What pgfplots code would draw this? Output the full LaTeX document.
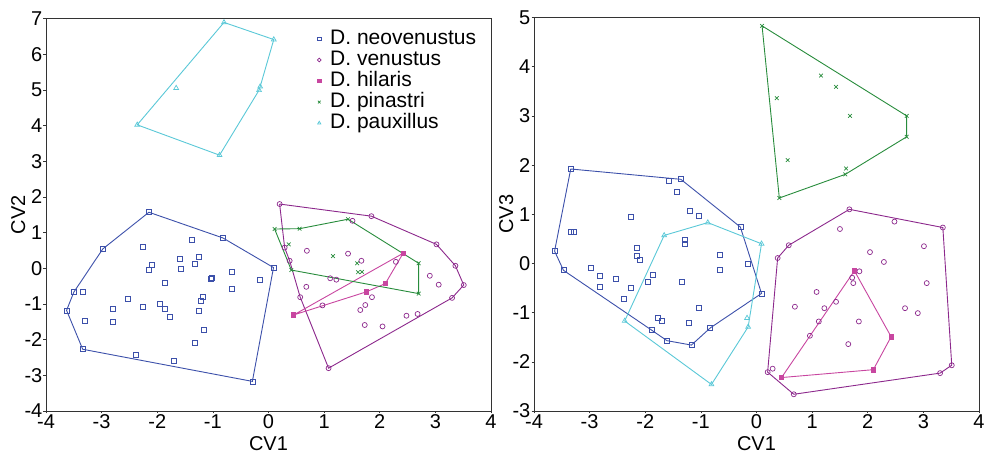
\documentclass[border=0pt]{standalone}
\usepackage{fontspec}
\setmainfont{Liberation Sans}
\usepackage{pgfplots}
\pgfplotsset{compat=1.18}
\definecolor{cneo}{RGB}{60,80,170}
\definecolor{cven}{RGB}{140,40,140}
\definecolor{chil}{RGB}{200,70,160}
\definecolor{cpin}{RGB}{40,140,60}
\definecolor{cpau}{RGB}{90,200,215}
\pgfplotsset{
  cvstyle/.style={
    scale only axis, width=445pt,
    tick align=outside, major tick length=2.5pt,
    xtick pos=bottom, ytick pos=left,
    axis line style={line width=0.8pt, black!80},
    every tick/.style={black!80, line width=0.6pt},
    /pgf/number format/assume math mode=true,
    ticklabel style={font=\fontsize{20}{24}\selectfont, inner sep=1pt},
    label style={font=\fontsize{20}{24}\selectfont},
    xlabel=CV1,
    xlabel style={at={(axis description cs:0.5,-0.0823)}, anchor=center},
    ylabel style={at={(axis description cs:-0.0625,0.5)}, anchor=center},
  },
  hull/.style={line width=0.9pt, forget plot, no markers},
  pts/.style={only marks, mark options={line width=0.7pt}},
  neo/.style={color=cneo, mark=square, mark size=2.5pt},
  ven/.style={color=cven, mark=o, mark size=2.5pt},
  hil/.style={color=chil, mark=square*, mark size=2.2pt},
  pin/.style={color=cpin, mark=x, mark size=2.6pt},
  pau/.style={color=cpau, mark=triangle, mark size=2.8pt},
}
\begin{document}
\begin{tikzpicture}
\path[use as bounding box] (0pt,0pt) rectangle (987pt,454pt);
% ---------------- left panel ----------------
\begin{axis}[cvstyle, at={(46pt,43pt)}, anchor=south west, height=392.5pt,
  xmin=-4, xmax=4, ymin=-4, ymax=7,
  xtick={-4,...,4}, ytick={-4,...,7},
  ylabel=CV2,
  legend style={draw=none, fill=none, at={(axis description cs:0.604,0.975)}, anchor=north west,
    font=\fontsize{21}{21}\selectfont, row sep=0pt, inner sep=0pt,
    nodes={inner sep=1pt, text height=15pt, text depth=4pt}},
  legend cell align=left,
  legend image code/.code={\path[draw=none] (0cm,0cm) -- (0.5cm,0cm);
    \draw[#1, mark size=1.8pt] plot coordinates {(0.15cm,0cm)};},
]
% hulls
\addplot[hull, cneo] coordinates {(-2.15,1.57) (-0.82,0.85) (0.09,0.02) (-0.29,-3.17) (-3.34,-2.27) (-3.63,-1.18) (-3.50,-0.67) (-2.98,0.54) (-2.15,1.57)};
\addplot[hull, cven] coordinates {(0.20,1.80) (1.85,1.46) (3.02,0.67) (3.36,0.07) (3.51,-0.47) (3.30,-0.83) (1.08,-2.80) (0.57,-0.81) (0.38,0.21) (0.29,0.58) (0.20,1.80)};
\addplot[hull, chil] coordinates {(0.45,-1.31) (2.42,0.42) (2.10,-0.43) (1.76,-0.66) (0.45,-1.31)};
\addplot[hull, cpin] coordinates {(0.11,1.10) (0.56,1.11) (1.43,1.375) (2.70,0.14) (2.70,-0.71) (0.41,-0.05) (0.11,1.10)};
\addplot[hull, cpau] coordinates {(-0.80,6.89) (0.095,6.41) (-0.15,5.09) (-0.17,4.99) (-0.88,3.17) (-2.36,4.02) (-0.80,6.89)};
% points
\addplot[pts, neo] coordinates {
(-2.15,1.57) (-0.82,0.85) (0.09,0.02) (-0.29,-3.17) (-3.34,-2.27) (-3.63,-1.18) (-3.50,-0.67) (-2.98,0.54)
(-3.34,-0.67) (-2.25,0.59) (-1.37,0.80) (-1.26,0.33) (-1.60,0.27) (-1.33,0.12) (-2.09,0.09) (-2.15,-0.05)
(-1.58,-0.03) (-0.65,-0.10) (-1.03,-0.29) (-1.02,-0.28) (-0.16,-0.32) (-1.87,-0.42) (-0.65,-0.58) (-1.18,-0.79)
(-1.22,-0.92) (-2.52,-0.86) (-1.96,-1.01) (-1.87,-1.13) (-2.26,-1.08) (-2.80,-1.15) (-1.26,-1.20) (-1.77,-1.36)
(-3.31,-1.48) (-2.80,-1.51) (-1.17,-1.72) (-1.32,-2.08) (-2.38,-2.43) (-1.70,-2.59)};
\addlegendentry{D. neovenustus}
\addplot[pts, ven] coordinates {
(0.20,1.80) (1.85,1.46) (3.02,0.67) (3.36,0.07) (3.51,-0.47) (3.30,-0.83) (1.08,-2.80) (0.57,-0.81) (0.38,0.21) (0.29,0.58)
(1.51,1.33) (0.69,0.49) (1.43,0.41) (1.67,0.21) (2.29,0.18) (1.11,-0.28) (1.22,-0.32) (0.68,-0.52) (2.90,-0.21)
(3.06,-0.46) (1.86,-0.81) (1.74,-1.03) (0.97,-1.04) (1.65,-1.17) (2.48,-1.33) (2.68,-1.28) (1.73,-1.59) (2.05,-1.63)};
\addlegendentry{D. venustus}
\addplot[pts, hil] coordinates {(2.42,0.42) (2.10,-0.43) (1.76,-0.66) (0.45,-1.31)};
\addlegendentry{D. hilaris}
\addplot[pts, pin] coordinates {
(0.11,1.10) (0.56,1.11) (1.43,1.375) (2.70,0.14) (2.70,-0.71) (0.41,-0.05)
(0.365,0.67) (1.16,0.34) (1.594,0.14) (1.61,-0.11) (1.68,-0.10)};
\addlegendentry{D. pinastri}
\addplot[pts, pau] coordinates {(-0.80,6.89) (0.095,6.41) (-0.15,5.09) (-0.17,4.99) (-0.88,3.17) (-2.36,4.02) (-1.66,5.05)};
\addlegendentry{D. pauxillus}
\end{axis}
% ---------------- right panel ----------------
\begin{axis}[cvstyle, at={(534pt,43pt)}, anchor=south west, height=393.5pt,
  xmin=-4, xmax=4, ymin=-3, ymax=5,
  xtick={-4,...,4}, ytick={-3,...,5},
  ylabel=CV3,
]
\addplot[hull, cneo] coordinates {(-3.34,1.92) (-1.36,1.71) (-0.29,0.74) (0.09,-0.61) (-0.83,-1.31) (-1.17,-1.66) (-1.61,-1.57) (-1.88,-1.36) (-3.47,-0.14) (-3.63,0.25) (-3.34,1.92)};
\addplot[hull, cven] coordinates {(1.67,1.10) (3.35,0.73) (3.51,-2.07) (3.30,-2.23) (0.67,-2.66) (0.20,-2.21) (0.38,0.11) (0.58,0.37) (1.67,1.10)};
\addplot[hull, chil] coordinates {(1.76,-0.15) (2.42,-1.49) (2.10,-2.16) (0.45,-2.32) (1.76,-0.15)};
\addplot[hull, cpin] coordinates {(0.10,4.83) (2.70,3.00) (2.70,2.575) (1.594,1.81) (0.41,1.33) (0.10,4.83)};
\addplot[hull, cpau] coordinates {(-1.66,0.57) (-0.876,0.83) (0.09,0.40) (-0.15,-1.29) (-0.81,-2.46) (-2.37,-1.17) (-1.66,0.57)};
\addplot[pts, neo] coordinates {
(-3.34,1.92) (-1.36,1.71) (-0.29,0.74) (0.09,-0.61) (-0.83,-1.31) (-1.17,-1.66) (-1.61,-1.57) (-1.88,-1.36) (-3.47,-0.14) (-3.63,0.25)
(-1.58,1.68) (-0.16,0.00) (-1.43,1.45) (-1.19,1.07) (-1.04,0.97) (-2.26,0.95) (-3.33,0.64) (-3.28,0.64)
(-1.28,0.47) (-1.28,0.39) (-2.15,0.32) (-2.15,0.15) (-2.10,0.07) (-0.655,0.17) (-0.655,-0.14) (-2.98,-0.08)
(-2.81,-0.26) (-2.81,-0.48) (-2.52,-0.31) (-1.87,-0.24) (-1.96,-0.375) (-2.26,-0.50) (-2.39,-0.73) (-1.35,-0.38)
(-1.04,-0.90) (-1.78,-1.11) (-1.70,-1.17) (-1.22,-1.20)};
\addplot[pts, ven] coordinates {
(1.67,1.10) (3.35,0.73) (3.51,-2.07) (3.30,-2.23) (0.67,-2.66) (0.20,-2.21) (0.38,0.11) (0.58,0.37)
(2.48,0.85) (1.50,0.70) (3.01,0.35) (2.04,0.23) (2.29,0.03) (1.85,-0.16) (1.72,-0.29) (1.74,-0.40) (3.06,-0.40)
(1.08,-0.58) (1.43,-0.78) (1.22,-0.91) (0.69,-0.88) (2.67,-0.91) (2.90,-1.01) (1.12,-1.18) (1.84,-1.18)
(0.96,-1.47) (1.65,-1.64) (0.29,-2.14)};
\addplot[pts, hil] coordinates {(1.76,-0.15) (2.42,-1.49) (2.10,-2.16) (0.45,-2.32)};
\addplot[pts, pin] coordinates {
(0.10,4.83) (2.70,3.00) (2.70,2.575) (1.594,1.81) (0.41,1.33)
(1.16,3.82) (1.43,3.59) (0.365,3.36) (1.68,3.00) (0.56,2.10) (1.61,1.93)};
\addplot[pts, pau] coordinates {(-1.66,0.57) (-0.876,0.83) (0.09,0.40) (-0.15,-1.29) (-0.81,-2.46) (-2.37,-1.17) (-0.17,-1.11)};
\end{axis}
\end{tikzpicture}
\end{document}
